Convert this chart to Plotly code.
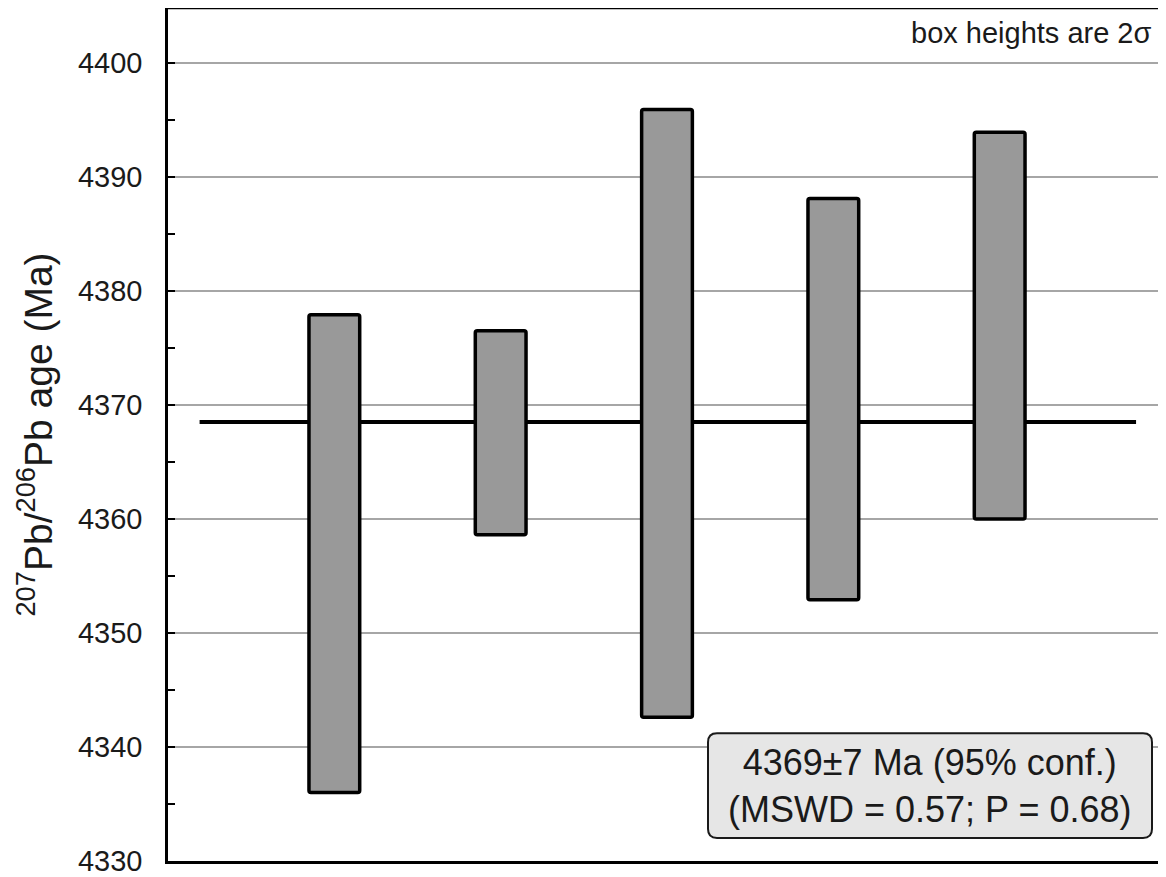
import plotly.graph_objects as go

# ---- data ----
grain_index = [1, 2, 3, 4, 5]
age_low = [4336.0, 4358.6, 4342.6, 4352.9, 4360.0]
age_high = [4377.9, 4376.5, 4395.9, 4388.1, 4393.9]
weighted_mean = 4368.5
mean_x_extent = [0.19, 5.82]
y_ticks = [4330, 4340, 4350, 4360, 4370, 4380, 4390, 4400]
y_range = [4330, 4404.8]
x_range = [0, 6]

FONT = "Liberation Sans, Arial, sans-serif"
TXT = "#1a1a1a"

# figure sits at an 8px page offset in the browser
FIG_W, FIG_H = 1158, 869
ML, MT, MB = 160, 0, 14
W = FIG_W - ML
H = FIG_H - MT - MB


def px_x(page_x):
    return (page_x - 8 - ML) / W


def px_y(page_y):
    return 1 - (page_y - 8 - MT) / H


fig = go.Figure()

fig.add_trace(go.Bar(
    x=grain_index,
    y=[h - l for h, l in zip(age_high, age_low)],
    base=age_low,
    width=0.305,
    marker=dict(color="#999999", line=dict(color="black", width=3.5), cornerradius=2),
    showlegend=False,
    hoverinfo="skip",
))

# weighted mean line (behind bars, above gridlines)
fig.add_shape(type="line", xref="x", yref="y",
              x0=mean_x_extent[0], x1=mean_x_extent[1],
              y0=weighted_mean, y1=weighted_mean,
              line=dict(color="black", width=4), layer="between")

# top border
fig.add_shape(type="line", xref="paper", yref="paper", x0=0, x1=1, y0=1, y1=1,
              line=dict(color="black", width=2.5), layer="above")

# rounded box for the result label
bx0, bx1 = px_x(708), px_x(1152)
by0, by1 = px_y(840), px_y(735)
rx, ry = 9 / W, 9 / H
path = (f"M {bx0+rx},{by0} L {bx1-rx},{by0} Q {bx1},{by0} {bx1},{by0+ry} "
        f"L {bx1},{by1-ry} Q {bx1},{by1} {bx1-rx},{by1} "
        f"L {bx0+rx},{by1} Q {bx0},{by1} {bx0},{by1-ry} "
        f"L {bx0},{by0+ry} Q {bx0},{by0} {bx0+rx},{by0} Z")
fig.add_shape(type="path", xref="paper", yref="paper", path=path,
              fillcolor="#e6e6e6", line=dict(color="#1a1a1a", width=2), layer="above")

fig.add_annotation(xref="paper", yref="paper", x=(bx0 + bx1) / 2, y=(by0 + by1) / 2,
                   text="4369±7 Ma (95% conf.)<br>(MSWD = 0.57; P = 0.68)",
                   showarrow=False, align="center",
                   font=dict(family=FONT, size=36, color=TXT),
                   xanchor="center", yanchor="middle")

fig.add_annotation(xref="paper", yref="paper", x=px_x(1153), y=px_y(33),
                   text="box heights are 2σ", showarrow=False,
                   xanchor="right", yanchor="middle",
                   font=dict(family=FONT, size=29, color=TXT))

fig.update_layout(
    width=FIG_W, height=FIG_H,
    margin=dict(l=ML, r=0, t=MT, b=MB, pad=0),
    paper_bgcolor="white", plot_bgcolor="white",
    font=dict(family=FONT, color=TXT),
    showlegend=False,
    xaxis=dict(range=x_range, showticklabels=False, ticks="", showgrid=False,
               zeroline=False, showline=True, linecolor="black", linewidth=2.5),
    yaxis=dict(range=y_range, tickvals=y_ticks, ticks="inside", ticklen=7,
               tickwidth=2, tickcolor="black",
               showgrid=True, gridcolor="#a6a6a6", gridwidth=2,
               zeroline=False, showline=True, linecolor="black", linewidth=2.5,
               minor=dict(dtick=5, tick0=4330, ticks="inside", ticklen=7,
                          tickwidth=2, tickcolor="black", showgrid=False),
               tickfont=dict(family=FONT, size=29, color=TXT),
               ticklabelstandoff=17, ticklabeloverflow="allow",
               title=dict(text="<sup>207</sup>Pb/<sup>206</sup>Pb age (Ma)",
                          font=dict(family=FONT, size=39, color=TXT), standoff=14)),
)

fig.write_html("out.html")
